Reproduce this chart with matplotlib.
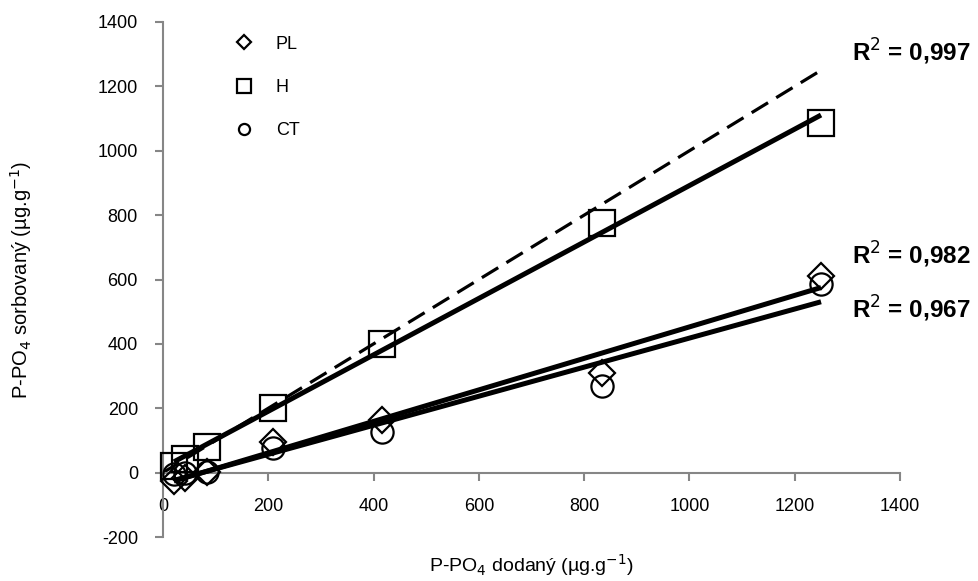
import numpy as np
import matplotlib
matplotlib.use("Agg")
import matplotlib.pyplot as plt

plt.rcParams['font.family'] = ['Liberation Sans', 'DejaVu Sans']
plt.rcParams['axes.unicode_minus'] = False

# Data
dodany = [20.8, 41.7, 83.3, 208.3, 416.7, 833.3, 1250.0]
PL = [-25, -18, 3, 96, 162, 311, 612]
H = [22, 43, 81, 202, 401, 775, 1085]
CT = [-5, 0, 3, 75, 125, 270, 586]
r2_labels = ["R$^2$ = 0,997", "R$^2$ = 0,982", "R$^2$ = 0,967"]
xticks = [0, 200, 400, 600, 800, 1000, 1200, 1400]
yticks = [-200, 0, 200, 400, 600, 800, 1000, 1200, 1400]

fig = plt.figure(figsize=(9.79, 5.81), dpi=100)
ax = fig.add_axes([163/979, 1-537/581, (900-163)/979, (537-22)/581])

x = np.array(dodany)
gray = '#868686'

# 1:1 reference line
ax.plot([0, x[-1]], [0, x[-1]], ls=(0, (6, 3)), color='black', lw=2.3, zorder=2)

ax.plot(x, PL, ls='none', marker='D', ms=13.5, mfc='none', mec='black', mew=1.6, label='PL', zorder=3, clip_on=False)
ax.plot(x, H, ls='none', marker='s', ms=19, mfc='none', mec='black', mew=1.6, label='H', zorder=3, clip_on=False)
ax.plot(x, CT, ls='none', marker='o', ms=16, mfc='none', mec='black', mew=1.6, label='CT', zorder=3, clip_on=False)

for ys in (H, PL, CT):
    k, q = np.polyfit(x, ys, 1)
    ax.plot([x[0], x[-1]], [k*x[0]+q, k*x[-1]+q], color='black', lw=3.6, zorder=4,
            solid_capstyle='butt', clip_on=False)

r2_kw = dict(fontsize=17.5, fontweight='bold', va='center', ha='left')
ax.text(1309, 1306, r2_labels[0], **r2_kw)
ax.text(1309, 675, r2_labels[1], **r2_kw)
ax.text(1309, 510, r2_labels[2], **r2_kw)

ax.set_xlim(0, 1400)
ax.set_ylim(-200, 1400)
ax.set_xticks(xticks)
ax.set_yticks(yticks)
ax.spines['bottom'].set_position(('data', 0))
ax.spines['top'].set_visible(False)
ax.spines['right'].set_visible(False)
for s in ('left', 'bottom'):
    ax.spines[s].set_color(gray)
    ax.spines[s].set_linewidth(1.5)
ax.tick_params(direction='out', length=6, width=1.5, color=gray, labelsize=13, labelcolor='black', pad=12)

ax.set_xlabel('P-PO$_4$ dodaný (µg.g$^{-1}$)', fontsize=14)
ax.xaxis.set_label_coords(0.5, -0.03)
ax.set_ylabel('P-PO$_4$ sorbovaný (µg.g$^{-1}$)', fontsize=14.5)
ax.yaxis.set_label_coords(-0.175, 0.5)

leg = ax.legend(loc='upper left', bbox_to_anchor=(0.07, 1.005), frameon=False, fontsize=13,
                markerscale=0.5, handlelength=1.5, labelspacing=1.45, handletextpad=1.0)

fig.savefig('out.png', dpi=100)
